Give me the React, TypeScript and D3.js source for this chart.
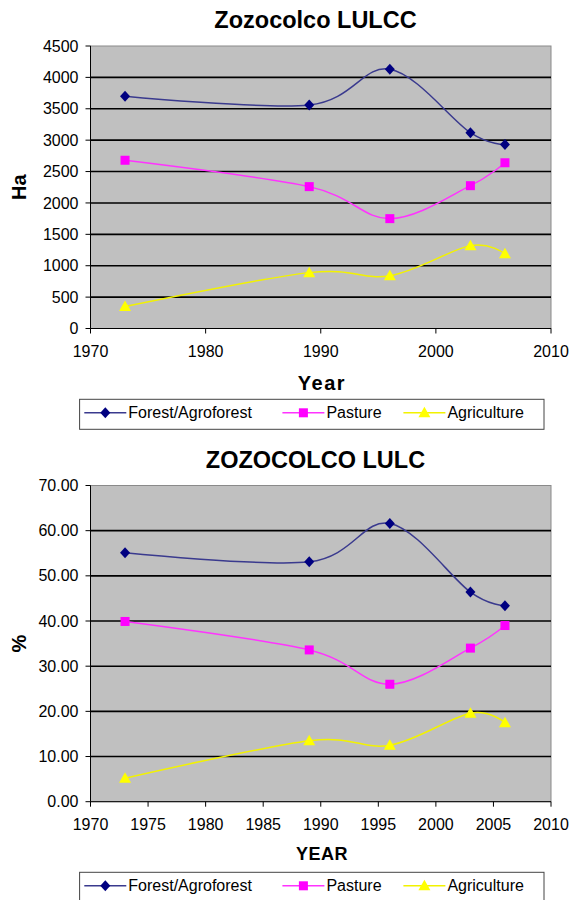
import * as React from 'react';
import * as d3 from 'd3';

// sample years
const years = [1973, 1989, 1996, 2003, 2006];

// land cover in hectares
const forestHa = [3700, 3560, 4130, 3120, 2930];
const pastureHa = [2680, 2260, 1750, 2275, 2640];
const agricultureHa = [350, 890, 840, 1320, 1190];

// land cover in percent
const forestPct = [55.1, 53.1, 61.6, 46.4, 43.4];
const pasturePct = [39.9, 33.6, 26.0, 34.0, 39.0];
const agriculturePct = [5.2, 13.5, 12.5, 19.6, 17.5];

const seriesNames = ['Forest/Agroforest', 'Pasture', 'Agriculture'];

// tick labels
const haTicks = [0, 500, 1000, 1500, 2000, 2500, 3000, 3500, 4000, 4500];
const pctTicks = [0, 10, 20, 30, 40, 50, 60, 70];
const decadeTicks = [1970, 1980, 1990, 2000, 2010];
const fiveYearTicks = [1970, 1975, 1980, 1985, 1990, 1995, 2000, 2005, 2010];

// styles per series, same order as seriesNames
const styles = [
  { line: '#3a3a8e', fill: '#000080', shape: 'diamond' },
  { line: '#ff33ff', fill: '#ff00ff', shape: 'square' },
  { line: '#f2f200', fill: '#ffff00', shape: 'triangle' },
];

const FONT = '"Liberation Sans", Arial, sans-serif';
const plotLeft = 90.5;
const plotRight = 551;

const Marker = ({ shape, cx, cy, fill }) => {
  if (shape === 'square') {
    return <rect x={cx - 4.5} y={cy - 4.5} width={9} height={9} fill={fill} />;
  }
  if (shape === 'triangle') {
    return <path d={`M${cx},${cy - 6}L${cx + 6},${cy + 4.5}L${cx - 6},${cy + 4.5}Z`} fill={fill} />;
  }
  return <path d={`M${cx},${cy - 5.5}L${cx + 5},${cy}L${cx},${cy + 5.5}L${cx - 5},${cy}Z`} fill={fill} />;
};

// legend item positions (line start x), line length 42
const legendSlots = [84.3, 282.4, 403.4];
const legendLeft = 79.6;
const legendRight = 544;

const Panel = (props) => {
  const {
    title, yLabel, xLabel, xLabelSize, data, yTicks, yFormat, xTicks,
    plotTop, plotBottom, titleY, xLabelY, legendTop,
  } = props;

  const x = d3.scaleLinear().domain([1970, 2010]).range([plotLeft, plotRight]);
  const y = d3.scaleLinear().domain([0, d3.max(yTicks)]).range([plotBottom, plotTop]);

  const line = d3.line<number>()
    .x((d, i) => x(years[i]))
    .y((d) => y(d))
    .curve(d3.curveCardinal.tension(0));

  return (
    <g fontFamily={FONT}>
      <text x={315.5} y={titleY} textAnchor="middle" fontSize={23.5} fontWeight="bold">{title}</text>

      {/* plot area */}
      <rect x={plotLeft} y={plotTop} width={plotRight - plotLeft} height={plotBottom - plotTop}
        fill="#c0c0c0" stroke="#8a8a8a" strokeWidth={1} />

      {/* gridlines */}
      {yTicks.slice(1, -1).map((t) => (
        <line key={t} x1={plotLeft} x2={plotRight} y1={y(t)} y2={y(t)} stroke="#000" strokeWidth={1.6} />
      ))}

      {/* axes */}
      <line x1={plotLeft} x2={plotLeft} y1={plotTop} y2={plotBottom} stroke="#000" strokeWidth={1} />
      <line x1={plotLeft} x2={plotRight} y1={plotBottom} y2={plotBottom} stroke="#000" strokeWidth={1} />
      {yTicks.map((t) => (
        <g key={t}>
          <line x1={plotLeft - 5} x2={plotLeft} y1={y(t)} y2={y(t)} stroke="#000" />
          <text x={plotLeft - 12} y={y(t)} dy="0.35em" textAnchor="end" fontSize={16}>{yFormat(t)}</text>
        </g>
      ))}
      {xTicks.map((t) => (
        <g key={t}>
          <line x1={x(t)} x2={x(t)} y1={plotBottom} y2={plotBottom + 5} stroke="#000" />
          <text x={x(t)} y={plotBottom + 28.5} textAnchor="middle" fontSize={16}>{t}</text>
        </g>
      ))}

      {/* axis titles */}
      <text x={322} y={xLabelY} textAnchor="middle" fontSize={xLabelSize} fontWeight="bold"
        letterSpacing={xLabel === 'Year' ? 1.5 : 0.5}>{xLabel}</text>
      <text transform={`translate(26,${(plotTop + plotBottom) / 2}) rotate(-90)`} textAnchor="middle"
        fontSize={20} fontWeight="bold">{yLabel}</text>

      {/* series */}
      {data.map((vals, si) => (
        <g key={si}>
          <path d={line(vals)} fill="none" stroke={styles[si].line} strokeWidth={1.5} />
          {vals.map((v, i) => (
            <Marker key={i} shape={styles[si].shape} cx={x(years[i])} cy={y(v)} fill={styles[si].fill} />
          ))}
        </g>
      ))}

      {/* legend */}
      <rect x={legendLeft} y={legendTop} width={legendRight - legendLeft} height={30}
        fill="#fff" stroke="#444" strokeWidth={1} />
      {seriesNames.map((name, si) => {
        const lx = legendSlots[si];
        const ly = legendTop + 13.5;
        return (
          <g key={name}>
            <line x1={lx} x2={lx + 42} y1={ly} y2={ly} stroke={styles[si].line} strokeWidth={1.5} />
            <Marker shape={styles[si].shape} cx={lx + 21} cy={ly} fill={styles[si].fill} />
            <text x={lx + 44} y={ly} dy="0.35em" fontSize={16}>{name}</text>
          </g>
        );
      })}
    </g>
  );
};

export default function App() {
  return (
    <svg width={572} height={900} style={{ position: 'absolute', left: 0, top: 0, background: '#fff' }}>
      <Panel
        title="Zozocolco LULCC"
        yLabel="Ha"
        xLabel="Year"
        xLabelSize={20}
        data={[forestHa, pastureHa, agricultureHa]}
        yTicks={haTicks}
        yFormat={(t) => String(t)}
        xTicks={decadeTicks}
        plotTop={46}
        plotBottom={328.5}
        titleY={28}
        xLabelY={390}
        legendTop={399.3}
      />
      <Panel
        title="ZOZOCOLCO LULC"
        yLabel="%"
        xLabel="YEAR"
        xLabelSize={18}
        data={[forestPct, pasturePct, agriculturePct]}
        yTicks={pctTicks}
        yFormat={(t) => t.toFixed(2)}
        xTicks={fiveYearTicks}
        plotTop={485.5}
        plotBottom={801.7}
        titleY={468}
        xLabelY={860}
        legendTop={872.3}
      />
    </svg>
  );
}
